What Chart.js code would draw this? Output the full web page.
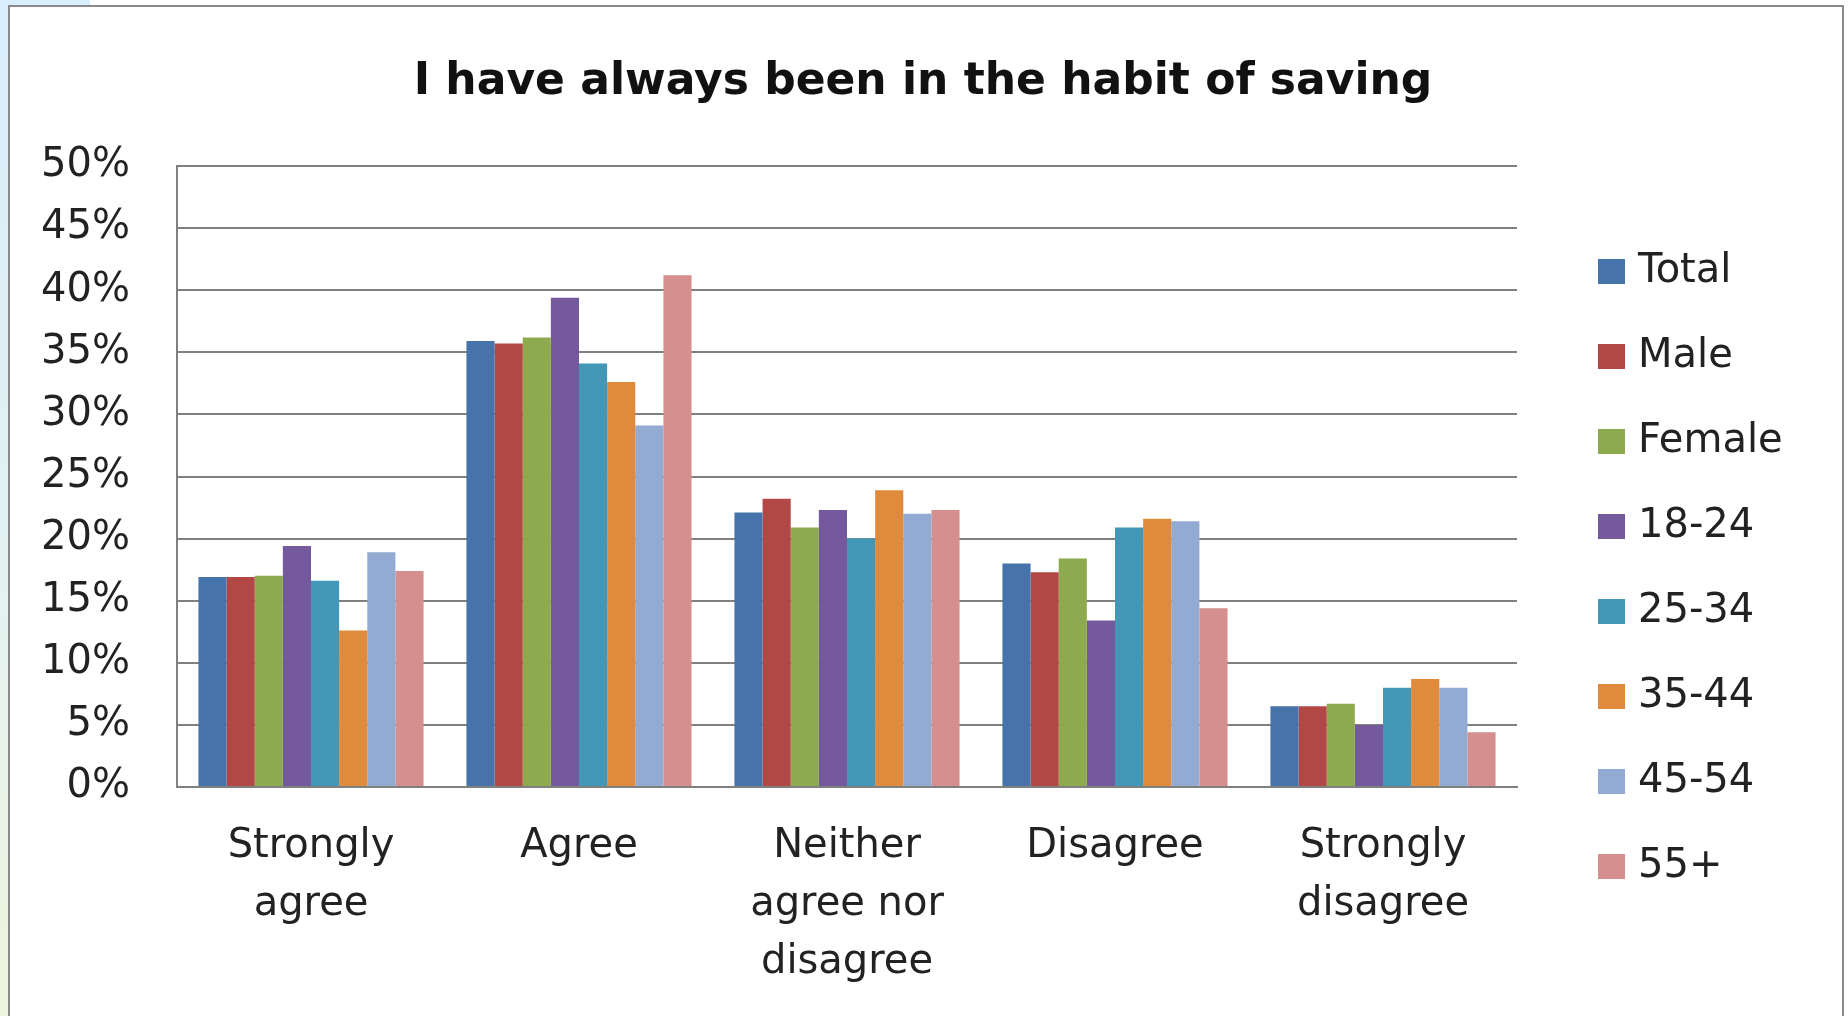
<!DOCTYPE html>
<html>
<head>
<meta charset="utf-8">
<script src="https://cdn.jsdelivr.net/npm/chart.js@4/dist/chart.umd.min.js"></script>
<style>
  html, body { margin: 0; padding: 0; background: #ffffff; }
  #wrap { width: 1848px; height: 1016px; position: relative; }
  canvas { display: block; }
</style>
</head>
<body>
<div id="wrap"><canvas id="c" width="1848" height="1016"></canvas></div>
<script>
// ---- Data ----
const categories = [["Strongly", "agree"], "Agree", ["Neither", "agree nor", "disagree"], "Disagree", ["Strongly", "disagree"]];
const seriesNames = ["Total", "Male", "Female", "18-24", "25-34", "35-44", "45-54", "55+"];
const total   = [16.9, 35.9, 22.1, 18.0, 6.5];
const male    = [16.9, 35.7, 23.2, 17.3, 6.5];
const female  = [17.0, 36.2, 20.9, 18.4, 6.7];
const age1824 = [19.4, 39.4, 22.3, 13.4, 5.0];
const age2534 = [16.6, 34.1, 20.0, 20.9, 8.0];
const age3544 = [12.6, 32.6, 23.9, 21.6, 8.7];
const age4554 = [18.9, 29.1, 22.0, 21.4, 8.0];
const age55   = [17.4, 41.2, 22.3, 14.4, 4.4];
const yTicks  = [0, 5, 10, 15, 20, 25, 30, 35, 40, 45, 50];
const titleText = "I have always been in the habit of saving";

const seriesValues = [total, male, female, age1824, age2534, age3544, age4554, age55];
const colors = ["#4573AA", "#B24846", "#8DAA4F", "#74599C", "#4197B5", "#E08A3C", "#93AAD2", "#D48F8E"];

const FONT = "'DejaVu Sans', Verdana, sans-serif";
const GRID = '#808080';

const bgPlugin = {
  id: 'bg',
  beforeDraw(chart) {
    const ctx = chart.ctx;
    ctx.save();
    ctx.fillStyle = '#ffffff';
    ctx.fillRect(0, 0, chart.width, chart.height);
    const g = ctx.createLinearGradient(0, 0, 0, chart.height);
    g.addColorStop(0, '#d8eefb');
    g.addColorStop(0.6, '#e4f2f0');
    g.addColorStop(1, '#eef5dc');
    ctx.fillStyle = g;
    ctx.fillRect(0, 0, 8, chart.height);
    ctx.fillStyle = '#d8eefb';
    ctx.fillRect(0, 0, 90, 5);
    ctx.strokeStyle = '#8a8a8a';
    ctx.lineWidth = 2;
    ctx.beginPath();
    ctx.moveTo(9, chart.height);
    ctx.lineTo(9, 6);
    ctx.lineTo(1843, 6);
    ctx.lineTo(1843, chart.height);
    ctx.stroke();
    ctx.restore();
  }
};

const titlePlugin = {
  id: 'customTitle',
  afterDraw(chart) {
    const ctx = chart.ctx;
    ctx.save();
    ctx.font = 'bold 44px ' + FONT;
    ctx.fillStyle = '#111111';
    ctx.textAlign = 'center';
    ctx.textBaseline = 'middle';
    ctx.fillText(titleText, 923, 83);
    ctx.restore();
  }
};

const legendPlugin = {
  id: 'customLegend',
  afterDraw(chart) {
    const ctx = chart.ctx;
    const area = chart.chartArea;
    ctx.save();
    ctx.font = '40px ' + FONT;
    ctx.textBaseline = 'middle';
    ctx.textAlign = 'left';
    chart.data.datasets.forEach((ds, i) => {
      const cy = 271 + i * 85;
      const x = area.right + 81;
      ctx.fillStyle = ds.backgroundColor;
      ctx.fillRect(x, cy - 12, 27, 25);
      ctx.fillStyle = '#222222';
      ctx.fillText(ds.label, x + 40, cy + 1);
    });
    ctx.restore();
  }
};

new Chart(document.getElementById('c'), {
  type: 'bar',
  data: {
    labels: categories,
    datasets: seriesNames.map((name, i) => ({
      label: name,
      data: seriesValues[i],
      backgroundColor: colors[i],
      borderWidth: 0,
      categoryPercentage: 0.84,
      barPercentage: 1.0
    }))
  },
  options: {
    responsive: false,
    animation: false,
    devicePixelRatio: 1,
    layout: { padding: { left: 0, right: 331, top: 166, bottom: 0 } },
    plugins: {
      legend: { display: false },
      tooltip: { enabled: false },
      title: { display: false }
    },
    scales: {
      x: {
        grid: { display: false, drawTicks: false },
        border: { display: true, color: GRID, width: 2 },
        ticks: {
          color: '#222222',
          font: { family: FONT, size: 40, lineHeight: 1.45 },
          padding: 31,
          maxRotation: 0,
          autoSkip: false
        },
        afterFit(scale) { scale.height = 229; }
      },
      y: {
        min: 0,
        max: 50,
        afterBuildTicks(scale) { scale.ticks = yTicks.map(v => ({ value: v })); },
        grid: { color: GRID, lineWidth: 2, drawTicks: false },
        border: { display: true, color: GRID, width: 2 },
        ticks: {
          color: '#222222',
          font: { family: FONT, size: 40 },
          padding: 47,
          callback: v => v + '%'
        },
        afterFit(scale) { scale.width = 177; }
      }
    }
  },
  plugins: [bgPlugin, titlePlugin, legendPlugin]
});
</script>
</body>
</html>
